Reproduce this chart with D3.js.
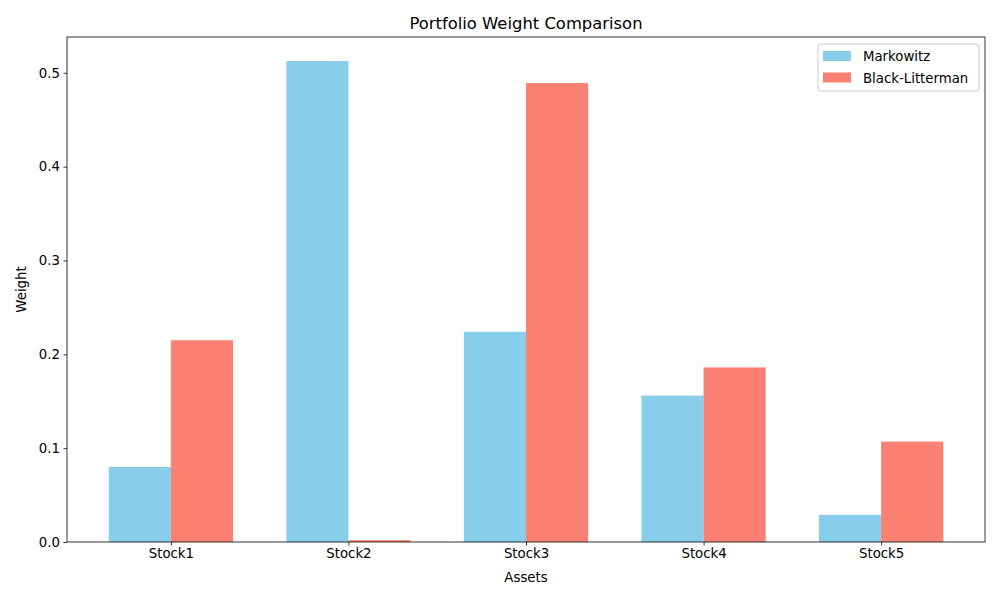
<!DOCTYPE html>
<html>
<head>
<meta charset="utf-8">
<script src="https://cdn.jsdelivr.net/npm/d3@7"></script>
<style>
  body { margin: 0; background: #fff; }
  svg { font-family: "DejaVu Sans", sans-serif; }
</style>
</head>
<body>
<script>
// data
var assets = ["Stock1", "Stock2", "Stock3", "Stock4", "Stock5"];
var markowitz = [0.080, 0.5125, 0.224, 0.156, 0.029];
var blackLitterman = [0.215, 0.002, 0.489, 0.186, 0.107];
var seriesNames = ["Markowitz", "Black-Litterman"];
var seriesColors = ["#87CEEB", "#FA8072"];
var yTicks = [0, 0.1, 0.2, 0.3, 0.4, 0.5];

var w = 1000, h = 600;
var plotLeft = 67, plotRight = 985, plotTop = 37, plotBottom = 542;
var barW = 0.35;

var svg = d3.select("body").append("svg")
    .attr("width", w)
    .attr("height", h);

var xScale = d3.scaleLinear()
    .domain([-0.585, assets.length - 1 + 0.585])
    .range([plotLeft, plotRight]);

var ymax = d3.max(markowitz.concat(blackLitterman)) * 1.05;
var yScale = d3.scaleLinear()
    .domain([0, ymax])
    .range([plotBottom, plotTop]);

var series = [markowitz, blackLitterman];

series.forEach(function (vals, s) {
    svg.selectAll(".bar" + s)
        .data(vals)
        .enter()
        .append("rect")
        .attr("x", function (d, i) { return xScale(i + (s === 0 ? -barW : 0)); })
        .attr("width", function () { return xScale(barW) - xScale(0); })
        .attr("y", function (d) { return yScale(d); })
        .attr("height", function (d) { return plotBottom - yScale(d); })
        .attr("fill", seriesColors[s]);
});

// axes
var xAxis = d3.axisBottom(xScale)
    .tickValues(d3.range(assets.length))
    .tickFormat(function (i) { return assets[i]; })
    .tickSizeOuter(0)
    .tickSize(3.5)
    .tickPadding(3.5);

var yAxis = d3.axisLeft(yScale)
    .tickValues(yTicks)
    .tickFormat(d3.format(".1f"))
    .tickSizeOuter(0)
    .tickSize(3.5)
    .tickPadding(3.5);

var gx = svg.append("g")
    .attr("transform", "translate(0," + plotBottom + ")")
    .call(xAxis);
var gy = svg.append("g")
    .attr("transform", "translate(" + plotLeft + ",0)")
    .call(yAxis);

[gx, gy].forEach(function (g) {
    g.select(".domain").remove();
    g.selectAll("text").attr("font-size", "13.3px").attr("fill", "#000")
        .attr("font-family", "'DejaVu Sans', sans-serif");
    g.selectAll("line").attr("stroke", "#000").attr("stroke-width", 0.8);
});

// frame
svg.append("rect")
    .attr("x", plotLeft)
    .attr("y", plotTop)
    .attr("width", plotRight - plotLeft)
    .attr("height", plotBottom - plotTop)
    .attr("fill", "none")
    .attr("stroke", "#000")
    .attr("stroke-width", 0.8);

// labels
svg.append("text")
    .attr("x", (plotLeft + plotRight) / 2)
    .attr("y", 29)
    .attr("text-anchor", "middle")
    .attr("font-size", "16.4px")
    .text("Portfolio Weight Comparison");

svg.append("text")
    .attr("x", (plotLeft + plotRight) / 2)
    .attr("y", 582)
    .attr("text-anchor", "middle")
    .attr("font-size", "13.3px")
    .text("Assets");

svg.append("text")
    .attr("transform", "translate(26," + ((plotTop + plotBottom) / 2) + ") rotate(-90)")
    .attr("text-anchor", "middle")
    .attr("font-size", "13.3px")
    .text("Weight");

// legend
var legend = svg.append("g").attr("transform", "translate(818,44)");
legend.append("rect")
    .attr("width", 161)
    .attr("height", 47)
    .attr("rx", 3)
    .attr("fill", "#fff")
    .attr("fill-opacity", 0.8)
    .attr("stroke", "#ccc")
    .attr("stroke-width", 1);

seriesNames.forEach(function (name, i) {
    var row = legend.append("g").attr("transform", "translate(5," + (7 + i * 21.5) + ")");
    row.append("rect")
        .attr("width", 28)
        .attr("height", 10)
        .attr("fill", seriesColors[i]);
    row.append("text")
        .attr("x", 40)
        .attr("y", 10)
        .attr("font-size", "13.3px")
        .text(name);
});
</script>
</body>
</html>
